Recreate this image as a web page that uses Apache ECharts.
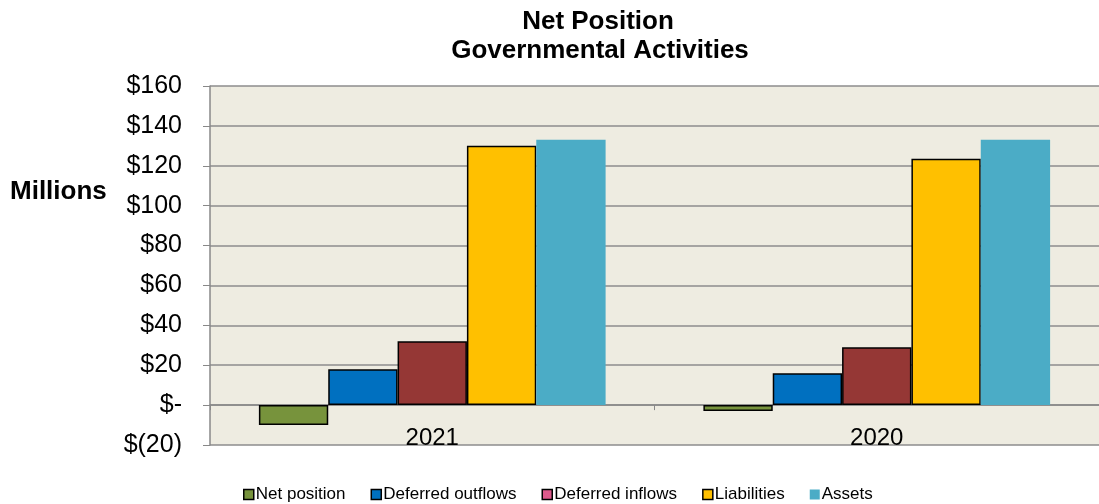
<!DOCTYPE html>
<html><head><meta charset="utf-8">
<script src="https://cdn.jsdelivr.net/npm/echarts@6/dist/echarts.min.js"></script>
<style>html,body{margin:0;padding:0;background:#fff}#c{width:1099px;height:504px}</style>
</head><body><div id="c"></div>
<script>
const categories = ['2021', '2020'];
const netPosition = [-10, -3];
const deferredOutflows = [18, 16];
const deferredInflows = [32, 29];
const liabilities = [130, 123.5];
const assets = [133, 133];
const seriesNames = ['Net position', 'Deferred outflows', 'Deferred inflows', 'Liabilities', 'Assets'];
const seriesData = [netPosition, deferredOutflows, deferredInflows, liabilities, assets];
const colors = ['#77933C', '#0070C0', '#953735', '#FFC000', '#4BACC6'];
const legendColors = ['#77933C', '#0070C0', '#DE5A8C', '#FFC000', '#4BACC6'];
const borders = [true, true, true, true, false];

const font = '"Liberation Sans", Arial, sans-serif';
const chart = echarts.init(document.getElementById('c'));
chart.setOption({
  animation: false,
  textStyle: { fontFamily: font },
  title: [
    { text: 'Net Position', left: 593, top: 4, textAlign: 'center',
      textStyle: { fontFamily: font, fontSize: 26, fontWeight: 'bold', color: '#000' } },
    { text: 'Governmental Activities', left: 595, top: 33, textAlign: 'center',
      textStyle: { fontFamily: font, fontSize: 26, fontWeight: 'bold', color: '#000' } }
  ],
  legend: {
    top: 481, left: 238,
    itemWidth: 10, itemHeight: 10, itemGap: 25,
    textStyle: { fontFamily: font, fontSize: 17, color: '#000', padding: [0, 0, 0, -3] },
    data: seriesNames.map((n, i) => ({ name: n, icon: 'rect',
      itemStyle: { color: legendColors[i], borderColor: borders[i] ? '#000' : legendColors[i], borderWidth: borders[i] ? 1.5 : 0 } }))
  },
  graphic: [{ type: 'text', left: 10, top: 179,
    style: { text: 'Millions', font: 'bold 26px "Liberation Sans", Arial, sans-serif', fill: '#000' } }],
  grid: { left: 210, right: 0, top: 86, bottom: 59, show: true, backgroundColor: '#EEECE1', borderWidth: 0 },
  xAxis: {
    type: 'category', data: categories,
    axisLine: { onZero: true, lineStyle: { color: '#888', width: 1.5 } },
    axisTick: { show: true, length: 5, lineStyle: { color: '#888' } },
    axisLabel: { margin: -19, fontSize: 24, color: '#000', fontFamily: font }
  },
  yAxis: {
    type: 'value', min: -20, max: 160, interval: 20,
    axisLine: { show: true, lineStyle: { color: '#888', width: 1.5 } },
    axisTick: { show: true, length: 7, inside: false, lineStyle: { color: '#888' } },
    splitLine: { lineStyle: { color: '#8c8c8c', width: 1.5 } },
    axisLabel: { fontSize: 25, color: '#000', fontFamily: font, margin: 28,
      formatter: v => v === 0 ? '$-' : (v < 0 ? '$(' + (-v) + ')' : '$' + v) }
  },
  series: seriesNames.map((n, i) => ({
    name: n, type: 'bar', data: seriesData[i],
    barGap: '0%', barCategoryGap: '22%',
    itemStyle: { color: colors[i], borderColor: borders[i] ? '#000' : colors[i], borderWidth: borders[i] ? 1.5 : 0 }
  }))
});
</script></body></html>
